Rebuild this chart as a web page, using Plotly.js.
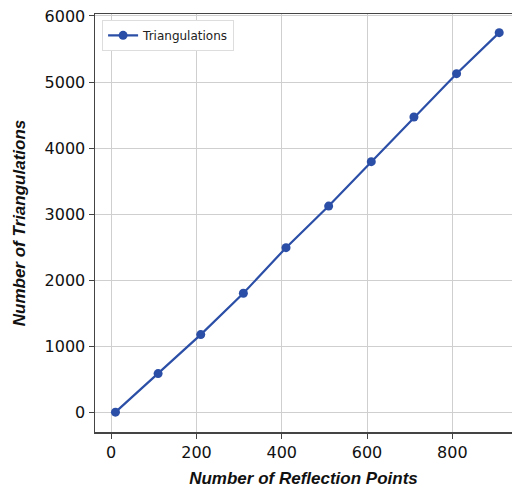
<!DOCTYPE html>
<html>
<head>
<meta charset="utf-8">
<script src="https://cdn.plot.ly/plotly-3.0.1.min.js"></script>
<style>html,body{margin:0;padding:0;background:#fff}#chart{width:512px;height:488px}</style>
</head>
<body>
<div id="chart"></div>
<script>
const reflectionPoints = [10, 110, 210, 310, 410, 510, 610, 710, 810, 910];
const triangulations = [10, 593, 1183, 1808, 2497, 3126, 3797, 4472, 5128, 5748];
const xTickVals = [0, 200, 400, 600, 800];
const yTickVals = [0, 1000, 2000, 3000, 4000, 5000, 6000];

const trace = {
  x: reflectionPoints,
  y: triangulations,
  type: 'scatter',
  mode: 'lines+markers',
  name: 'Triangulations',
  line: {color: '#2b4ea6', width: 2.2},
  marker: {color: '#2b4ea6', size: 9}
};

const layout = {
  width: 512, height: 488,
  margin: {l: 95, r: 0, t: 14, b: 56},
  paper_bgcolor: '#fff', plot_bgcolor: '#fff',
  showlegend: true,
  legend: {
    x: 0.017, y: 0.986, xanchor: 'left', yanchor: 'top',
    bgcolor: '#fff', bordercolor: '#dddddd', borderwidth: 1,
    font: {family: 'DejaVu Sans', size: 12, color: '#222'},
    itemwidth: 30
  },
  xaxis: {
    range: [-38, 940],
    tickvals: xTickVals,
    ticks: 'outside', ticklen: 5, tickcolor: '#444',
    showgrid: true, gridcolor: '#cfcfcf', gridwidth: 1,
    zeroline: false,
    showline: true, linecolor: '#444', linewidth: 1.5, mirror: true,
    tickfont: {family: 'DejaVu Sans', size: 16, color: '#111'},
    title: {text: '<b><i>Number of Reflection Points</i></b>', font: {family: 'Liberation Sans', size: 17, color: '#111'}, standoff: 13}
  },
  yaxis: {
    range: [-290, 6030],
    tickvals: yTickVals,
    ticks: 'outside', ticklen: 5, tickcolor: '#444',
    showgrid: true, gridcolor: '#cfcfcf', gridwidth: 1,
    zeroline: false,
    showline: true, linecolor: '#444', linewidth: 1.5,
    tickfont: {family: 'DejaVu Sans', size: 16, color: '#111'},
    title: {text: '<b><i>Number of Triangulations</i></b>', font: {family: 'Liberation Sans', size: 17, color: '#111'}, standoff: 14}
  }
};

Plotly.newPlot('chart', [trace], layout, {displayModeBar: false, staticPlot: true});
</script>
</body>
</html>
